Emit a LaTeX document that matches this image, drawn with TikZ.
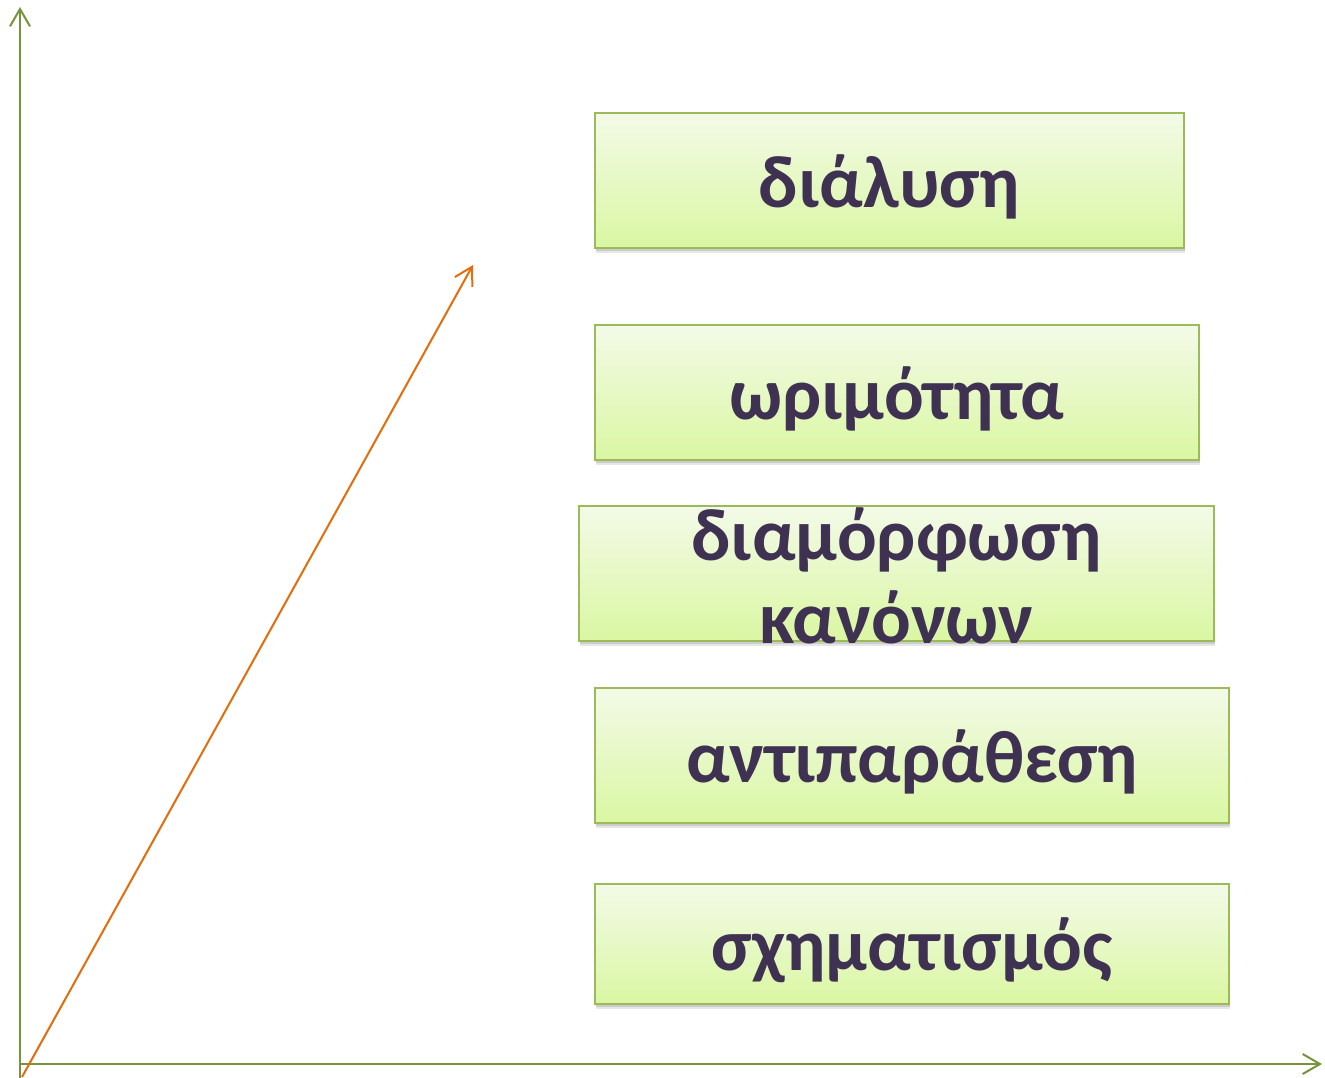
\documentclass[tikz,border=0pt]{standalone}
\usepackage{fontspec}
\setmainfont{Carlito}
\usetikzlibrary{arrows.meta,shadows}
\definecolor{axisgreen}{HTML}{77933C}
\definecolor{arroworange}{HTML}{E46C0A}
\definecolor{boxline}{HTML}{9BBB59}
\definecolor{boxtop}{HTML}{F3FAE8}
\definecolor{boxbottom}{HTML}{DAF7A2}
\definecolor{stagetext}{HTML}{3F3151}

\begin{document}
\begin{tikzpicture}[x=0.75pt, y=-0.75pt,
  stage/.style={rectangle, draw=boxline, line width=1pt, top color=boxtop, bottom color=boxbottom,
    drop shadow={opacity=0.2, shadow xshift=1pt, shadow yshift=-4pt},
    drop shadow={opacity=0.25, shadow xshift=0.5pt, shadow yshift=-2pt}, inner sep=0pt},
  stagelabel/.style={text=stagetext, font=\fontsize{55.5}{62}\selectfont\bfseries, align=center, inner sep=0pt},
  oneline/.style={text height=40pt, text depth=0pt},
  axis/.style={draw=axisgreen, line width=1.5pt, -{Straight Barb[length=13pt, width=15pt]}},
  growth/.style={draw=arroworange, line width=1.5pt, -{Straight Barb[length=13pt, width=15pt]}}]
 \useasboundingbox (0,0) rectangle (1325,1078);

 % axes
 \coordinate (O) at (20,1078);
 \coordinate (Y) at (20,7);
 \coordinate (X0) at (20,1064);
 \coordinate (X) at (1322,1064);
 \draw[axis] (O) -- (Y);
 \draw[axis] (X0) -- (X);

 % stages
 \node[stage, minimum width=441.75pt, minimum height=101.25pt,
   label={[stagelabel, oneline]center:διάλυση}] (S5) at (889.5,180.5) {};
 \node[stage, minimum width=453pt, minimum height=101.25pt,
   label={[stagelabel, oneline]center:ωριμότητα}] (S4) at (897,392.5) {};
 \node[stage, minimum width=476.25pt, minimum height=101.25pt,
   label={[stagelabel, yshift=-2pt]center:{διαμόρφωση\\κανόνων}}] (S3) at (896.5,573.5) {};
 \node[stage, minimum width=475.5pt, minimum height=101.25pt,
   label={[stagelabel, oneline]center:αντιπαράθεση}] (S2) at (912,755.5) {};
 \node[stage, minimum width=475.5pt, minimum height=90pt,
   label={[stagelabel, oneline]center:σχηματισμός}] (S1) at (912,944) {};

 % growth arrow
 \coordinate (G0) at (22,1077);
 \coordinate (G1) at (473,265);
 \draw[growth] (G0) -- (G1);
\end{tikzpicture}
\end{document}
